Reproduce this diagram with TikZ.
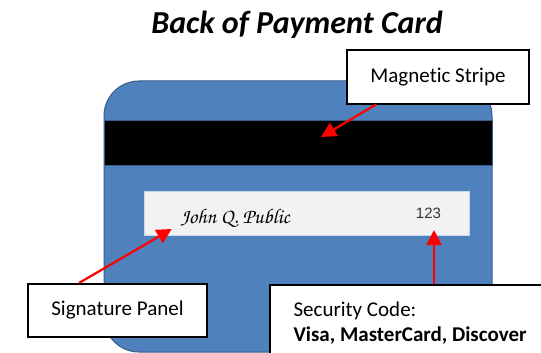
\documentclass[tikz,border=0pt]{standalone}
\usepackage{fontspec}
\setmainfont{Carlito}[Ligatures=CommonOff]
\newfontfamily\arialfont{Liberation Sans}
\newfontfamily\sigfont{texgyrechorus-mediumitalic.otf}
\usetikzlibrary{arrows.meta}

\definecolor{cardblue}{HTML}{4F81BD}
\definecolor{cardedge}{HTML}{385D8A}
\definecolor{panelgray}{HTML}{F2F2F2}
\definecolor{paneledge}{HTML}{C9D7EA}
\definecolor{pointer}{HTML}{FF0000}

\tikzset{
  callout/.style={draw=black, line width=2pt, fill=white, inner sep=0pt},
  calloutfont/.style={font=\fontsize{21}{25}\selectfont},
  pointerarrow/.style={draw=pointer, line width=2.2pt,
    -{Triangle[length=15pt,width=15pt]}},
}

\begin{document}
\begin{tikzpicture}[x=1pt,y=-1pt]
\useasboundingbox (0,0) rectangle (541,353);
\fill[white] (0,0) rectangle (541,353);

% title
\node[anchor=base, font=\fontsize{32}{38}\selectfont\bfseries\itshape]
  (title) at (297,34) {Back of Payment Card};

% card body
\draw[cardedge, fill=cardblue, line width=1pt, rounded corners=35pt]
  (104,81) rectangle (492,352);

% magnetic stripe
\node[draw=cardedge, fill=black, line width=1pt, minimum width=388pt,
  minimum height=45pt, inner sep=0pt] (stripe) at (298,142.5) {};

% signature panel
\node[draw=paneledge, fill=panelgray, line width=0.8pt, minimum width=325pt,
  minimum height=44pt, inner sep=0pt] (panel) at (306.5,213.5) {};
\node[anchor=base west, font=\sigfont\fontsize{21}{25}\selectfont]
  (signature) at (177,223) {John Q. Public};
\node[anchor=base east, font=\arialfont\fontsize{15}{18}\selectfont,
  text=black!80] (cvv) at (444.5,218.3) {123};

% callout boxes
\node[callout, calloutfont, minimum width=182pt, minimum height=53.5pt]
  (magbox) at (438,76.75) {Magnetic Stripe};
\node[callout, calloutfont, minimum width=179pt, minimum height=53pt]
  (sigbox) at (117.5,310.5) {Signature Panel};
\node[callout, anchor=north west, minimum width=290pt, minimum height=90pt]
  (secbox) at (269,284) {};
\node[anchor=base west, calloutfont] (sectitle) at (290,316.7) {Security Code:};
\node[anchor=base west, font=\fontsize{21}{25}\selectfont\bfseries]
  (secbrands) at (290,341.7) {Visa, MasterCard, Discover};

% pointers
\coordinate (magtip) at (321,137);
\coordinate (sigtip) at (171.7,229);
\coordinate (sectip) at (434,230);
\draw[pointerarrow] ([xshift=30pt]magbox.south west) -- (magtip);
\draw[pointerarrow] ([xshift=52pt]sigbox.north west) -- (sigtip);
\draw[pointerarrow] ([xshift=165pt]secbox.north west) -- (sectip);
\end{tikzpicture}
\end{document}
